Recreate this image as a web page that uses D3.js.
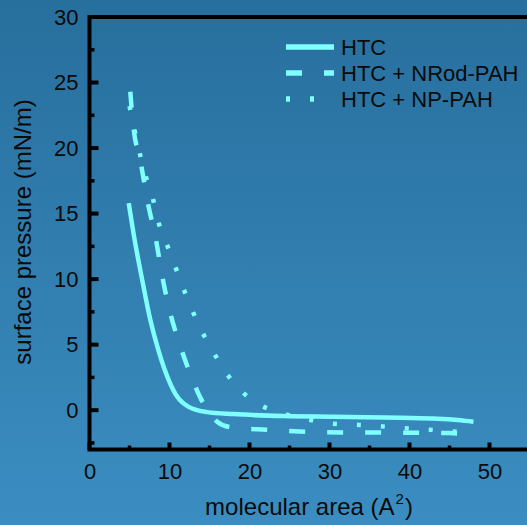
<!DOCTYPE html>
<html><head><meta charset="utf-8">
<script src="https://cdn.jsdelivr.net/npm/d3@7"></script>
<style>html,body{margin:0;padding:0;overflow:hidden;background:#2f7dad}</style>
</head><body><svg id="c" width="527" height="525"></svg>
<script>
const seriesNames = ["HTC", "HTC + NRod-PAH", "HTC + NP-PAH"];
const htcX = [4.9, 5.5, 6.6, 7.6, 8.6, 9.9, 11.0, 12.4, 14.7, 18.0, 24.3, 30.5, 38.9, 43.5, 46.0, 48.0];
const htcY = [15.8, 13.5, 9.9, 6.9, 4.6, 2.3, 1.0, 0.25, -0.15, -0.3, -0.45, -0.5, -0.58, -0.65, -0.75, -0.88];
const nrodX = [5.1, 5.4, 6.4, 7.4, 8.25, 9.1, 10.1, 11.4, 12.9, 13.9, 15.0, 16.0, 17.6, 22.2, 31.5, 40.0, 45.0, 48.0];
const nrodY = [24.3, 22.1, 18.9, 15.5, 13.2, 10.2, 7.4, 4.8, 2.3, 0.9, -0.2, -0.9, -1.3, -1.5, -1.7, -1.72, -1.75, -1.9];
const npX = [5.0, 7.0, 7.9, 8.6, 9.7, 10.75, 11.8, 13.0, 14.4, 16.0, 18.0, 20.75, 23.6, 26.6, 29.7, 32.8, 35.8, 38.8, 41.7, 44.7, 48.0];
const npY = [23.2, 17.9, 16.2, 14.4, 12.6, 10.9, 9.2, 7.4, 5.6, 3.9, 2.1, 0.6, -0.15, -0.6, -1.0, -1.1, -1.2, -1.35, -1.45, -1.6, -1.7];
const xTicks = [0, 10, 20, 30, 40, 50];
const yTicks = [0, 5, 10, 15, 20, 25, 30];
const xMinor = [5, 15, 25, 35, 45];
const yMinor = [-2.5, 2.5, 7.5, 12.5, 17.5, 22.5, 27.5];

const FONT = "'Liberation Sans', Arial, sans-serif";
const lineColor = "#80ffff";
const textColor = "#0a0a0a";
const svg = d3.select("#c");
const W = 527, H = 525;
const defs = svg.append("defs");
const grad = defs.append("linearGradient").attr("id","bg").attr("x1",0).attr("y1",0).attr("x2",0).attr("y2",1);
grad.append("stop").attr("offset","0%").attr("stop-color","#276f9d");
grad.append("stop").attr("offset","100%").attr("stop-color","#3b8dc1");
svg.append("rect").attr("width",W).attr("height",H).attr("fill","url(#bg)");

const x = d3.scaleLinear().domain([0, 55]).range([89.5, 529.5]);
const y = d3.scaleLinear().domain([-3, 30]).range([449.5, 17]);

const series = [
  {name: seriesNames[0], xs: htcX, ys: htcY, dash: null},
  {name: seriesNames[1], xs: nrodX, ys: nrodY, dash: "16,22"},
  {name: seriesNames[2], xs: npX, ys: npY, dash: "4,20"}
];
const line = d3.line().x(d => x(d[0])).y(d => y(d[1])).curve(d3.curveMonotoneX);
series.forEach(s => {
  svg.append("path").datum(d3.zip(s.xs, s.ys)).attr("d", line)
    .attr("fill","none").attr("stroke", lineColor).attr("stroke-width", 4.5)
    .attr("stroke-dasharray", s.dash);
});

// frame
const fc = "#000";
svg.append("rect").attr("x", x(0)).attr("y", y(30)).attr("width", x(55)-x(0)).attr("height", y(-3)-y(30))
  .attr("fill","none").attr("stroke", fc).attr("stroke-width", 4);

// y axis
const yAxis = d3.axisLeft(y).tickValues(yTicks).tickSize(0).tickPadding(11);
const gy = svg.append("g").attr("transform", `translate(${x(0)},0)`).call(yAxis);
gy.select(".domain").remove();
gy.selectAll("text").attr("font-family", FONT).attr("font-size",22).attr("fill",textColor);
yTicks.forEach(v => svg.append("line").attr("x1", x(0)).attr("x2", x(0)+9).attr("y1", y(v)).attr("y2", y(v)).attr("stroke", fc).attr("stroke-width", 4));
yMinor.forEach(v => svg.append("line").attr("x1", x(0)).attr("x2", x(0)+5).attr("y1", y(v)).attr("y2", y(v)).attr("stroke", fc).attr("stroke-width", 3.5));

// x axis
const xAxis = d3.axisBottom(x).tickValues(xTicks).tickSize(0).tickPadding(14);
const gx = svg.append("g").attr("transform", `translate(0,${y(-3)})`).call(xAxis);
gx.select(".domain").remove();
gx.selectAll("text").attr("font-family", FONT).attr("font-size",22).attr("fill",textColor);
xTicks.forEach(v => svg.append("line").attr("x1", x(v)).attr("x2", x(v)).attr("y1", y(-3)).attr("y2", y(-3)-7).attr("stroke", fc).attr("stroke-width", 4));
xMinor.forEach(v => svg.append("line").attr("x1", x(v)).attr("x2", x(v)).attr("y1", y(-3)).attr("y2", y(-3)-4).attr("stroke", fc).attr("stroke-width", 3.5));

// axis titles
const xt = svg.append("text").attr("x", 309).attr("y", 515).attr("text-anchor","middle")
  .attr("font-family", FONT).attr("font-size",24).attr("fill",textColor);
xt.append("tspan").text("molecular area (A");
xt.append("tspan").attr("dy",-11).attr("dx",1).attr("font-size",15).text("2");
xt.append("tspan").attr("dy",11).attr("dx",1).text(")");
svg.append("text").attr("transform","translate(31,232) rotate(-90)").attr("text-anchor","middle")
  .attr("font-family", FONT).attr("font-size",24).attr("fill",textColor)
  .text("surface pressure (mN/m)");

// legend
const legY = [47, 73, 99];
series.forEach((s, i) => {
  svg.append("line").attr("x1", 286).attr("x2", 334).attr("y1", legY[i]).attr("y2", legY[i])
    .attr("stroke", lineColor).attr("stroke-width", 5.5).attr("stroke-dasharray", s.dash);
  svg.append("text").attr("x", 341).attr("y", legY[i]+8).attr("font-family", FONT)
    .attr("font-size",22).attr("fill",textColor).text(s.name);
});
</script></body></html>
